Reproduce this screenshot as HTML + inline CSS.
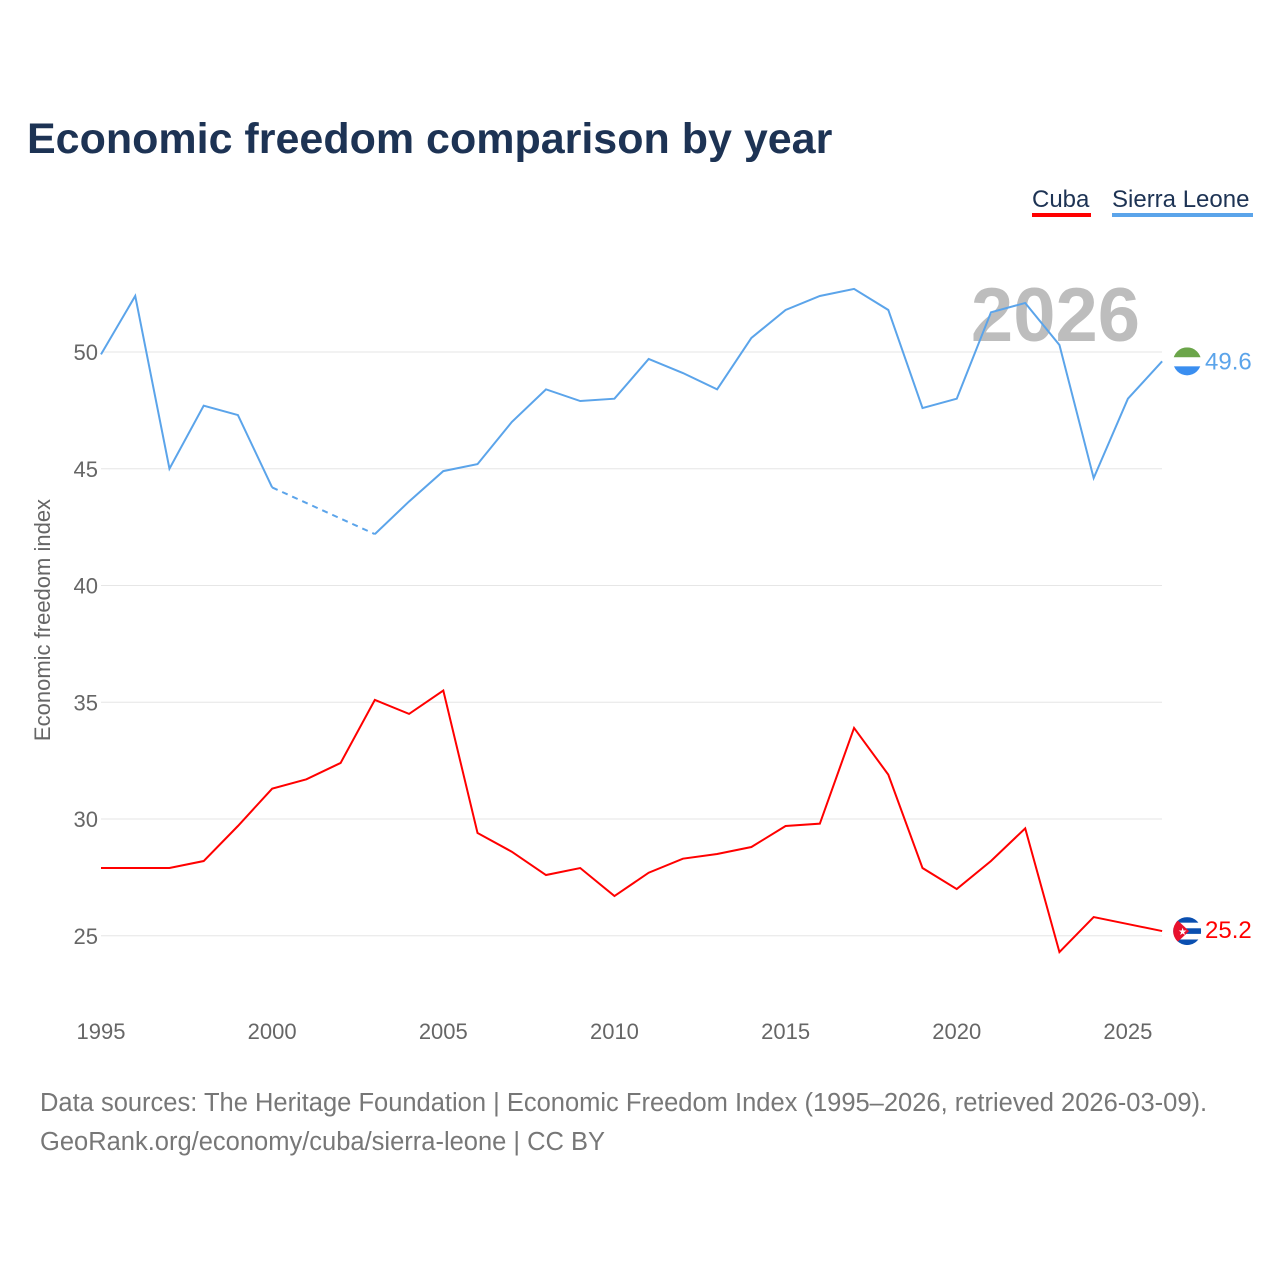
<!DOCTYPE html>
<html><head><meta charset="utf-8">
<style>
html,body{margin:0;padding:0;background:#fff;}
body{width:1280px;height:1280px;overflow:hidden;font-family:"Liberation Sans",sans-serif;}
svg text{font-family:"Liberation Sans",sans-serif;}
</style></head>
<body>
<svg id="chart" width="1280" height="1280" viewBox="0 0 1280 1280" xmlns="http://www.w3.org/2000/svg">
  <text x="27" y="153" font-size="43" font-weight="bold" fill="#1d3354">Economic freedom comparison by year</text>
  <g>
    <g>
      <text x="1032" y="207" font-size="24" fill="#1d3354">Cuba</text>
      <rect x="1032" y="213" width="59" height="4" fill="#ff0000"/>
    </g>
    <g>
      <text x="1112" y="207" font-size="24" fill="#1d3354">Sierra Leone</text>
      <rect x="1112" y="213" width="141" height="4" fill="#5ba4ea"/>
    </g>
  </g>
  <text x="1140" y="341" font-size="76" font-weight="bold" fill="#bdbdbd" text-anchor="end">2026</text>
  <text transform="translate(50,620) rotate(-90)" font-size="22" fill="#666" text-anchor="middle">Economic freedom index</text>
  <g id="grid"></g>
  <g id="series"></g>
  <text x="40" y="1111" font-size="25.5" fill="#777">Data sources: The Heritage Foundation | Economic Freedom Index (1995–2026, retrieved 2026-03-09).</text>
  <text x="40" y="1150" font-size="25.5" fill="#777">GeoRank.org/economy/cuba/sierra-leone | CC BY</text>
</svg>
<script>
const years = [1995,1996,1997,1998,1999,2000,2001,2002,2003,2004,2005,2006,2007,2008,2009,2010,2011,2012,2013,2014,2015,2016,2017,2018,2019,2020,2021,2022,2023,2024,2025,2026];
const cuba = [27.9,27.9,27.9,28.2,29.7,31.3,31.7,32.4,35.1,34.5,35.5,29.4,28.6,27.6,27.9,26.7,27.7,28.3,28.5,28.8,29.7,29.8,33.9,31.9,27.9,27.0,28.2,29.6,24.3,25.8,25.5,25.2];
const sierraLeone = [49.9,52.4,45.0,47.7,47.3,44.2,null,null,42.2,43.6,44.9,45.2,47.0,48.4,47.9,48.0,49.7,49.1,48.4,50.6,51.8,52.4,52.7,51.8,47.6,48.0,51.7,52.1,50.3,44.6,48.0,49.6];
const yTicks = [25,30,35,40,45,50];
const xTicks = [1995,2000,2005,2010,2015,2020,2025];

const NS="http://www.w3.org/2000/svg";
const x = v => 101 + (v-1995)*34.23;
const y = v => 352 + (50-v)*23.35;
function mk(tag, attrs, parent){const e=document.createElementNS(NS,tag);for(const k in attrs)e.setAttribute(k,attrs[k]);parent.appendChild(e);return e;}
const grid=document.getElementById('grid'), ser=document.getElementById('series');
yTicks.forEach(t=>{
  const l=mk('line',{x1:101,x2:1162,y1:y(t),y2:y(t),stroke:'#e6e6e6','stroke-width':1},grid);
  
  
  const tx=mk('text',{x:98,y:y(t)+8,'font-size':22,fill:'#666','text-anchor':'end'},grid);
  tx.textContent=t;
  
  
});
xTicks.forEach(t=>{
  const tx=mk('text',{x:x(t),y:1039,'font-size':22,fill:'#666','text-anchor':'middle'},grid);
  tx.textContent=t;
  
  
});
function drawSeries(vals,color,name){
  let segs=[],cur=[];
  vals.forEach((v,i)=>{if(v==null){if(cur.length)segs.push(cur);cur=[];}else cur.push([x(years[i]),y(v)]);});
  if(cur.length)segs.push(cur);
  segs.forEach((s,k)=>{
    const p=mk('path',{d:'M'+s.map(q=>q.join(',')).join('L'),fill:'none',stroke:color,'stroke-width':2},ser);
    
    
    if(k>0){
      const prev=segs[k-1][segs[k-1].length-1];
      const d=mk('path',{d:'M'+prev.join(',')+'L'+s[0].join(','),fill:'none',stroke:color,'stroke-width':2,'stroke-dasharray':'6,5'},ser);
      
      
    }
  });
  const last=vals[vals.length-1];
  return [x(years[years.length-1]),y(last),last];
}
const sl=drawSeries(sierraLeone,'#5ba4ea','sierra-leone');
const cu=drawSeries(cuba,'#ff0000','cuba');
function flagSL(cx,cy){
  const g=mk('g',{},ser);
  
  
  const cp=mk('clipPath',{id:'cSL'},g);mk('circle',{cx:cx,cy:cy,r:14},cp);
  const gg=mk('g',{'clip-path':'url(#cSL)'},g);
  mk('rect',{x:cx-14,y:cy-14,width:28,height:10,fill:'#6ba54a'},gg);
  mk('rect',{x:cx-14,y:cy-4,width:28,height:9,fill:'#fff'},gg);
  mk('rect',{x:cx-14,y:cy+5,width:28,height:10,fill:'#3a8ef0'},gg);
}
function flagCU(cx,cy){
  const g=mk('g',{},ser);
  
  
  const cp=mk('clipPath',{id:'cCU'},g);mk('circle',{cx:cx,cy:cy,r:14},cp);
  const gg=mk('g',{'clip-path':'url(#cCU)'},g);
  mk('rect',{x:cx-14,y:cy-14,width:28,height:28,fill:'#fff'},gg);
  for(let i=0;i<3;i++)mk('rect',{x:cx-14,y:cy-14+i*11.2,width:28,height:5.6,fill:'#0a4fb0'},gg);
  mk('polygon',{points:`${cx-14},${cy-15} ${cx+2},${cy} ${cx-14},${cy+15}`,fill:'#e8112d'},gg);
  mk('text',{x:cx-9,y:cy+4,'font-size':10,fill:'#fff'},gg).textContent='★';
}
flagSL(sl[0]+25,sl[1]);
flagCU(cu[0]+25,cu[1]);
const t1=mk('text',{x:1205,y:sl[1]+8,'font-size':24,fill:'#5ba4ea'},ser);t1.textContent=sl[2].toFixed(1);


const t2=mk('text',{x:1205,y:cu[1]+7,'font-size':24,fill:'#ff0000'},ser);t2.textContent=cu[2].toFixed(1);


</script>
</body></html>
